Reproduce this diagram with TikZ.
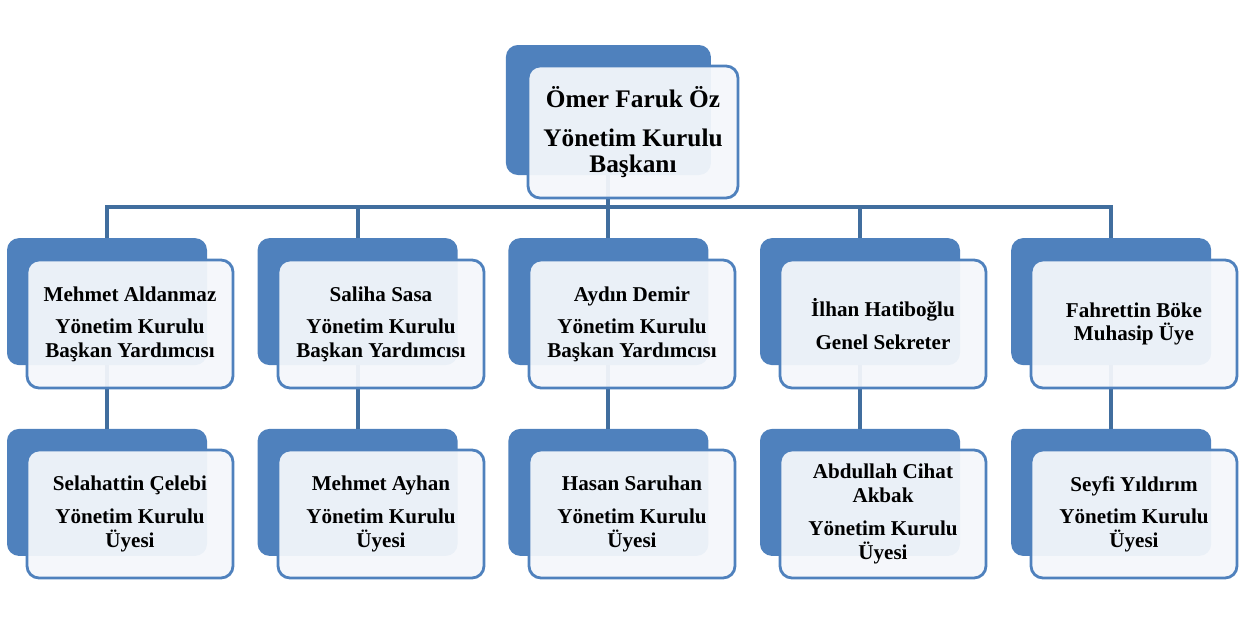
\documentclass[tikz,border=0pt]{standalone}
\usepackage{fontspec}
\setmainfont{Liberation Serif}
\usepackage{tikz}
\usetikzlibrary{positioning}
\definecolor{boxblue}{RGB}{79,129,189}
\definecolor{linkblue}{RGB}{65,110,158}
\definecolor{paleblue}{RGB}{244,247,251}

\begin{document}
\begin{tikzpicture}[
    back/.style={rectangle, fill=boxblue, rounded corners=0.3cm,
                 minimum width=5cm, minimum height=3.175cm},
    front/.style={rectangle, draw=boxblue, line width=2pt, fill=paleblue, fill opacity=0.94,
                  text opacity=1, rounded corners=0.3cm, minimum width=5.15cm, minimum height=3.2cm,
                  align=center, font=\bfseries\fontsize{15}{17}\selectfont},
    link/.style={draw=linkblue, line width=2.8pt}
]
    \useasboundingbox (0,0) rectangle (31,-15.5);

    % Chairman
    \node[back, minimum width=5.125cm, minimum height=3.25cm] (tb) at (15.21,-2.75) {};

    % Vice chairmen, secretary, accountant
    \node[back] (b1) at (2.675,-7.54) {};
    \node[back] (b2) at (8.94,-7.54) {};
    \node[back] (b3) at (15.21,-7.54) {};
    \node[back] (b4) at (21.5,-7.54) {};
    \node[back] (b5) at (27.78,-7.54) {};

    % Members
    \node[back] (c1) at (2.675,-12.31) {};
    \node[back] (c2) at (8.94,-12.31) {};
    \node[back] (c3) at (15.21,-12.31) {};
    \node[back] (c4) at (21.5,-12.31) {};
    \node[back] (c5) at (27.78,-12.31) {};

    % Links
    \draw[link] (tb.south) -- ++(0,-0.8) -| (b1.north);
    \draw[link] (tb.south) -- ++(0,-0.8) -| (b2.north);
    \draw[link] (tb.south) -- (b3.north);
    \draw[link] (tb.south) -- ++(0,-0.8) -| (b4.north);
    \draw[link] (tb.south) -- ++(0,-0.8) -| (b5.north);
    \draw[link] (b1.south) -- (c1.north);
    \draw[link] (b2.south) -- (c2.north);
    \draw[link] (b3.south) -- (c3.north);
    \draw[link] (b4.south) -- (c4.north);
    \draw[link] (b5.south) -- (c5.north);

    % Front boxes
    \node[front, minimum width=5.25cm, minimum height=3.3cm, font=\bfseries\fontsize{18}{18}\selectfont]
        (tf) at (15.825,-3.3) {Ömer Faruk Öz\\[10pt]Yönetim Kurulu\\Başkanı};

    \node[front] (f1) at (3.25,-8.1) {Mehmet Aldanmaz\\[6pt]Yönetim Kurulu\\Başkan Yardımcısı};
    \node[front] (f2) at (9.525,-8.1) {Saliha Sasa\\[6pt]Yönetim Kurulu\\Başkan Yardımcısı};
    \node[front] (f3) at (15.8,-8.1) {Aydın Demir\\[6pt]Yönetim Kurulu\\Başkan Yardımcısı};
    \node[front] (f4) at (22.075,-8.1) {İlhan Hatiboğlu\\[6pt]Genel Sekreter};
    \node[front] (f5) at (28.35,-8.1) {Fahrettin Böke\\Muhasip Üye};

    \node[front] (g1) at (3.25,-12.85) {Selahattin Çelebi\\[6pt]Yönetim Kurulu\\Üyesi};
    \node[front] (g2) at (9.525,-12.85) {Mehmet Ayhan\\[6pt]Yönetim Kurulu\\Üyesi};
    \node[front] (g3) at (15.8,-12.85) {Hasan Saruhan\\[6pt]Yönetim Kurulu\\Üyesi};
    \node[front] (g4) at (22.075,-12.85) {Abdullah Cihat\\Akbak\\[6pt]Yönetim Kurulu\\Üyesi};
    \node[front] (g5) at (28.35,-12.85) {Seyfi Yıldırım\\[6pt]Yönetim Kurulu\\Üyesi};
\end{tikzpicture}
\end{document}
